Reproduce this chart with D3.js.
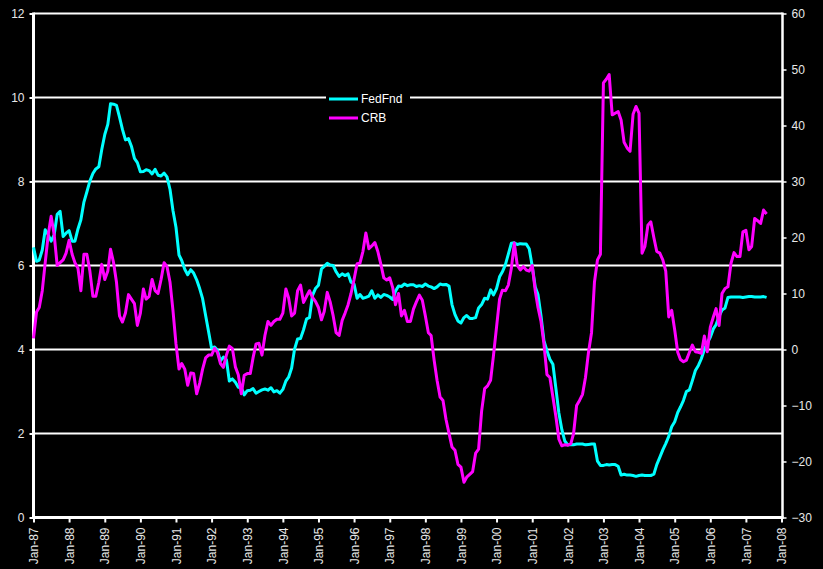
<!DOCTYPE html>
<html>
<head>
<meta charset="utf-8">
<script src="https://cdn.jsdelivr.net/npm/d3@7"></script>
<style>
  html, body { margin: 0; padding: 0; background: #000; }
  svg { display: block; }
  text { font-family: "Liberation Sans", Arial, sans-serif; }
</style>
</head>
<body>
<svg id="chart" width="823" height="569"></svg>
<script>
// Monthly series, starting January 1987
const startYear = 1987;

// Effective Fed Funds rate, % (left axis)
const fedFnd = [
  6.43, 6.10, 6.13, 6.37, 6.85, 6.73, 6.58, 6.73, 7.22, 7.29, 6.69, 6.77,
  6.83, 6.58, 6.58, 6.87, 7.09, 7.51, 7.75, 8.01, 8.19, 8.30, 8.35, 8.76,
  9.12, 9.36, 9.85, 9.84, 9.81, 9.53, 9.24, 8.99, 9.02, 8.84, 8.55, 8.45,
  8.23, 8.24, 8.28, 8.26, 8.18, 8.29, 8.15, 8.13, 8.20, 8.11, 7.81, 7.31,
  6.91, 6.25, 6.12, 5.91, 5.78, 5.90, 5.82, 5.66, 5.45, 5.21, 4.81, 4.43,
  4.03, 4.06, 3.98, 3.73, 3.82, 3.76, 3.25, 3.30, 3.22, 3.10, 3.09, 2.92,
  3.02, 3.03, 3.07, 2.96, 3.00, 3.04, 3.06, 3.03, 3.09, 2.99, 3.02, 2.96,
  3.05, 3.25, 3.34, 3.56, 4.01, 4.25, 4.26, 4.47, 4.73, 4.76, 5.29, 5.45,
  5.53, 5.92, 5.98, 6.05, 6.01, 6.00, 5.85, 5.74, 5.80, 5.76, 5.80, 5.60,
  5.56, 5.22, 5.31, 5.22, 5.24, 5.27, 5.40, 5.22, 5.30, 5.24, 5.31, 5.29,
  5.25, 5.19, 5.39, 5.51, 5.50, 5.56, 5.52, 5.54, 5.54, 5.50, 5.52, 5.50,
  5.56, 5.51, 5.49, 5.45, 5.49, 5.56, 5.54, 5.55, 5.51, 5.07, 4.83, 4.68,
  4.63, 4.76, 4.81, 4.74, 4.74, 4.76, 4.99, 5.07, 5.22, 5.20, 5.42, 5.30,
  5.45, 5.73, 5.85, 6.02, 6.27, 6.53, 6.54, 6.50, 6.52, 6.51, 6.51, 6.40,
  5.98, 5.49, 5.31, 4.80, 4.21, 3.97, 3.77, 3.65, 3.07, 2.49, 2.09, 1.82,
  1.73, 1.74, 1.73, 1.75, 1.75, 1.75, 1.73, 1.74, 1.75, 1.75, 1.34, 1.24,
  1.24, 1.26, 1.25, 1.26, 1.26, 1.22, 1.01, 1.03, 1.01, 1.01, 1.00, 0.98,
  1.00, 1.01, 1.00, 1.00, 1.00, 1.03, 1.26, 1.43, 1.61, 1.76, 1.93, 2.16,
  2.28, 2.50, 2.63, 2.79, 3.00, 3.04, 3.26, 3.50, 3.62, 3.78, 4.00, 4.16,
  4.29, 4.49, 4.59, 4.79, 4.94, 4.99, 5.24, 5.25, 5.25, 5.25, 5.25, 5.24,
  5.25, 5.26, 5.26, 5.25, 5.25, 5.25, 5.26, 5.24
];

// CRB commodity index, year-on-year % change (right axis)
const crb = [
  2.0, 6.7, 7.5, 10.5, 15.5, 20.5, 23.8, 20.5, 15.0, 15.5, 16.0, 17.2,
  19.5, 17.0, 15.5, 14.5, 10.5, 17.0, 17.0, 14.0, 9.5, 9.5, 12.0, 15.2,
  12.5, 14.0, 17.9, 15.5, 12.0, 6.0, 4.9, 6.5, 9.8, 9.0, 8.2, 4.3,
  6.5, 10.8, 9.0, 9.5, 12.5, 10.5, 10.0, 12.5, 15.5, 14.8, 12.0, 7.0,
  1.0, -3.5, -2.5, -3.5, -6.4, -4.2, -4.3, -7.9, -6.0, -3.5, -1.5, -1.0,
  -1.0, 0.2, -0.5, -2.5, -3.2, -1.0, 0.6, 0.2, -3.1, -4.5, -7.9, -4.6,
  -4.3, -4.3, -1.5, 1.0, 1.1, -1.0, 2.5, 5.0, 4.3, 5.0, 5.4, 5.4,
  6.5, 10.8, 9.2, 6.0, 6.5, 10.5, 11.5, 8.4, 9.5, 10.5, 9.3, 8.6,
  7.5, 5.3, 6.8, 10.2, 8.5, 6.0, 3.0, 2.5, 5.2, 6.5, 8.0, 10.0,
  12.5, 15.3, 15.4, 17.5, 20.8, 18.0, 18.5, 19.1, 17.5, 15.3, 12.8, 12.4,
  12.8, 11.0, 8.0, 10.0, 6.0, 7.0, 5.0, 5.0, 7.2, 8.5, 9.7, 8.8,
  6.0, 3.0, 2.5, -1.9, -5.5, -8.5, -9.1, -12.5, -15.0, -17.4, -18.0, -20.5,
  -21.0, -23.7, -22.8, -22.3, -21.8, -18.5, -17.8, -11.0, -7.0, -6.5, -5.5, -1.0,
  4.0, 9.0, 10.6, 10.5, 11.5, 14.5, 19.0, 15.0, 14.2, 14.8, 14.2, 14.0,
  15.0, 10.5, 7.5, 5.0, 1.0, -4.5, -5.0, -8.5, -12.0, -16.0, -17.2, -17.0,
  -17.1, -16.8, -15.0, -10.0, -9.1, -8.0, -5.0, -0.5, 3.0, 12.0, 16.0, 17.0,
  47.6, 48.3, 49.1, 41.9, 42.2, 42.5, 41.0, 37.0, 36.0, 35.4, 42.0, 43.4,
  42.2, 17.2, 18.4, 22.2, 22.8, 20.0, 17.5, 17.2, 16.0, 14.0, 5.8, 7.0,
  3.5, -0.5, -1.8, -2.2, -1.9, -0.5, 0.8, -0.4, -0.5, -0.7, 2.4, -0.4,
  4.0, 5.8, 7.3, 4.3, 10.0, 10.9, 11.2, 15.4, 17.3, 16.6, 16.6, 21.0,
  21.3, 17.8, 18.4, 23.4, 23.0, 22.5, 24.9, 24.2
];

const xTickLabels = ["Jan-87","Jan-88","Jan-89","Jan-90","Jan-91","Jan-92","Jan-93",
  "Jan-94","Jan-95","Jan-96","Jan-97","Jan-98","Jan-99","Jan-00","Jan-01","Jan-02",
  "Jan-03","Jan-04","Jan-05","Jan-06","Jan-07","Jan-08"];
const leftTicks = [0, 2, 4, 6, 8, 10, 12];
const rightTicks = [-30, -20, -10, 0, 10, 20, 30, 40, 50, 60];
const seriesNames = ["FedFnd", "CRB"];
const seriesColors = ["#00ffff", "#ff00ff"];

const svg = d3.select("#chart");
const plot = { left: 33.5, right: 781.5, top: 13.5, bottom: 517.5 };
const labelColor = "#e8e8e8";

const monthDate = i => new Date(startYear, i, 1);
const tickDates = xTickLabels.map((_, i) => new Date(startYear + i, 0, 1));

const x = d3.scaleTime()
  .domain([tickDates[0], tickDates[tickDates.length - 1]])
  .range([plot.left, plot.right]);
const yL = d3.scaleLinear().domain([0, 12]).range([plot.bottom, plot.top]);
const yR = d3.scaleLinear().domain([-30, 60]).range([plot.bottom, plot.top]);

// horizontal gridlines
svg.append("g").selectAll("line")
  .data(leftTicks.filter(v => v > 0))
  .join("line")
  .attr("x1", plot.left).attr("x2", plot.right + 1)
  .attr("y1", d => yL(d)).attr("y2", d => yL(d))
  .attr("stroke", "#ffffff").attr("stroke-width", 2);

// left axis
const gL = svg.append("g").attr("transform", `translate(${plot.left},0)`)
  .call(d3.axisLeft(yL).tickValues(leftTicks).tickSize(4).tickPadding(5).tickFormat(d3.format("d")));
gL.select(".domain").remove();
gL.selectAll(".tick line").attr("stroke", "#fff").attr("stroke-width", 2);
gL.selectAll(".tick text").attr("fill", labelColor).style("font-size", "12px");

// right axis
const gR = svg.append("g").attr("transform", `translate(${plot.right + 1},0)`)
  .call(d3.axisRight(yR).tickValues(rightTicks).tickSize(4).tickPadding(5).tickFormat(d3.format("d")));
gR.select(".domain").remove();
gR.selectAll(".tick line").attr("stroke", "#fff").attr("stroke-width", 1.5);
gR.selectAll(".tick text").attr("fill", labelColor).style("font-size", "12px");

// bottom axis with rotated month labels
const gB = svg.append("g").attr("transform", `translate(0,${plot.bottom})`)
  .call(d3.axisBottom(x).tickValues(tickDates).tickSize(5)
    .tickFormat((d, i) => xTickLabels[i]));
gB.select(".domain").remove();
gB.selectAll(".tick line").attr("stroke", "#fff").attr("stroke-width", 2);
gB.selectAll(".tick text")
  .attr("fill", labelColor).style("font-size", "12px")
  .attr("transform", "rotate(-90)")
  .attr("x", -10).attr("y", 0).attr("dy", "0.35em")
  .attr("text-anchor", "end");

// axis lines
svg.append("line").attr("x1", plot.left).attr("x2", plot.left)
  .attr("y1", plot.top - 1).attr("y2", plot.bottom + 1.5)
  .attr("stroke", "#fff").attr("stroke-width", 3);
svg.append("line").attr("x1", plot.right + 1).attr("x2", plot.right + 1)
  .attr("y1", plot.top - 1).attr("y2", plot.bottom + 1)
  .attr("stroke", "#fff").attr("stroke-width", 2.5);
svg.append("line").attr("x1", plot.left - 1.5).attr("x2", plot.right + 2)
  .attr("y1", plot.bottom).attr("y2", plot.bottom)
  .attr("stroke", "#fff").attr("stroke-width", 3);

// series lines
const lineL = d3.line().x((d, i) => x(monthDate(i))).y(d => yL(d));
const lineR = d3.line().x((d, i) => x(monthDate(i))).y(d => yR(d));

svg.append("path").datum(fedFnd)
  .attr("d", lineL).attr("fill", "none")
  .attr("stroke", seriesColors[0]).attr("stroke-width", 3)
  .attr("stroke-linejoin", "round");
svg.append("path").datum(crb)
  .attr("d", lineR).attr("fill", "none")
  .attr("stroke", seriesColors[1]).attr("stroke-width", 3)
  .attr("stroke-linejoin", "round");

// legend
const legend = svg.append("g").attr("transform", "translate(326,88)");
legend.append("rect").attr("width", 84).attr("height", 40).attr("fill", "#000");
seriesNames.forEach((name, i) => {
  const row = legend.append("g").attr("transform", `translate(0,${11 + i * 19})`);
  row.append("line").attr("x1", 3).attr("x2", 32).attr("y1", 0).attr("y2", 0)
    .attr("stroke", seriesColors[i]).attr("stroke-width", 3);
  row.append("text").attr("x", 35).attr("y", 0).attr("dy", "0.36em")
    .attr("fill", "#fff").style("font-size", "12px").text(name);
});
</script>
</body>
</html>
